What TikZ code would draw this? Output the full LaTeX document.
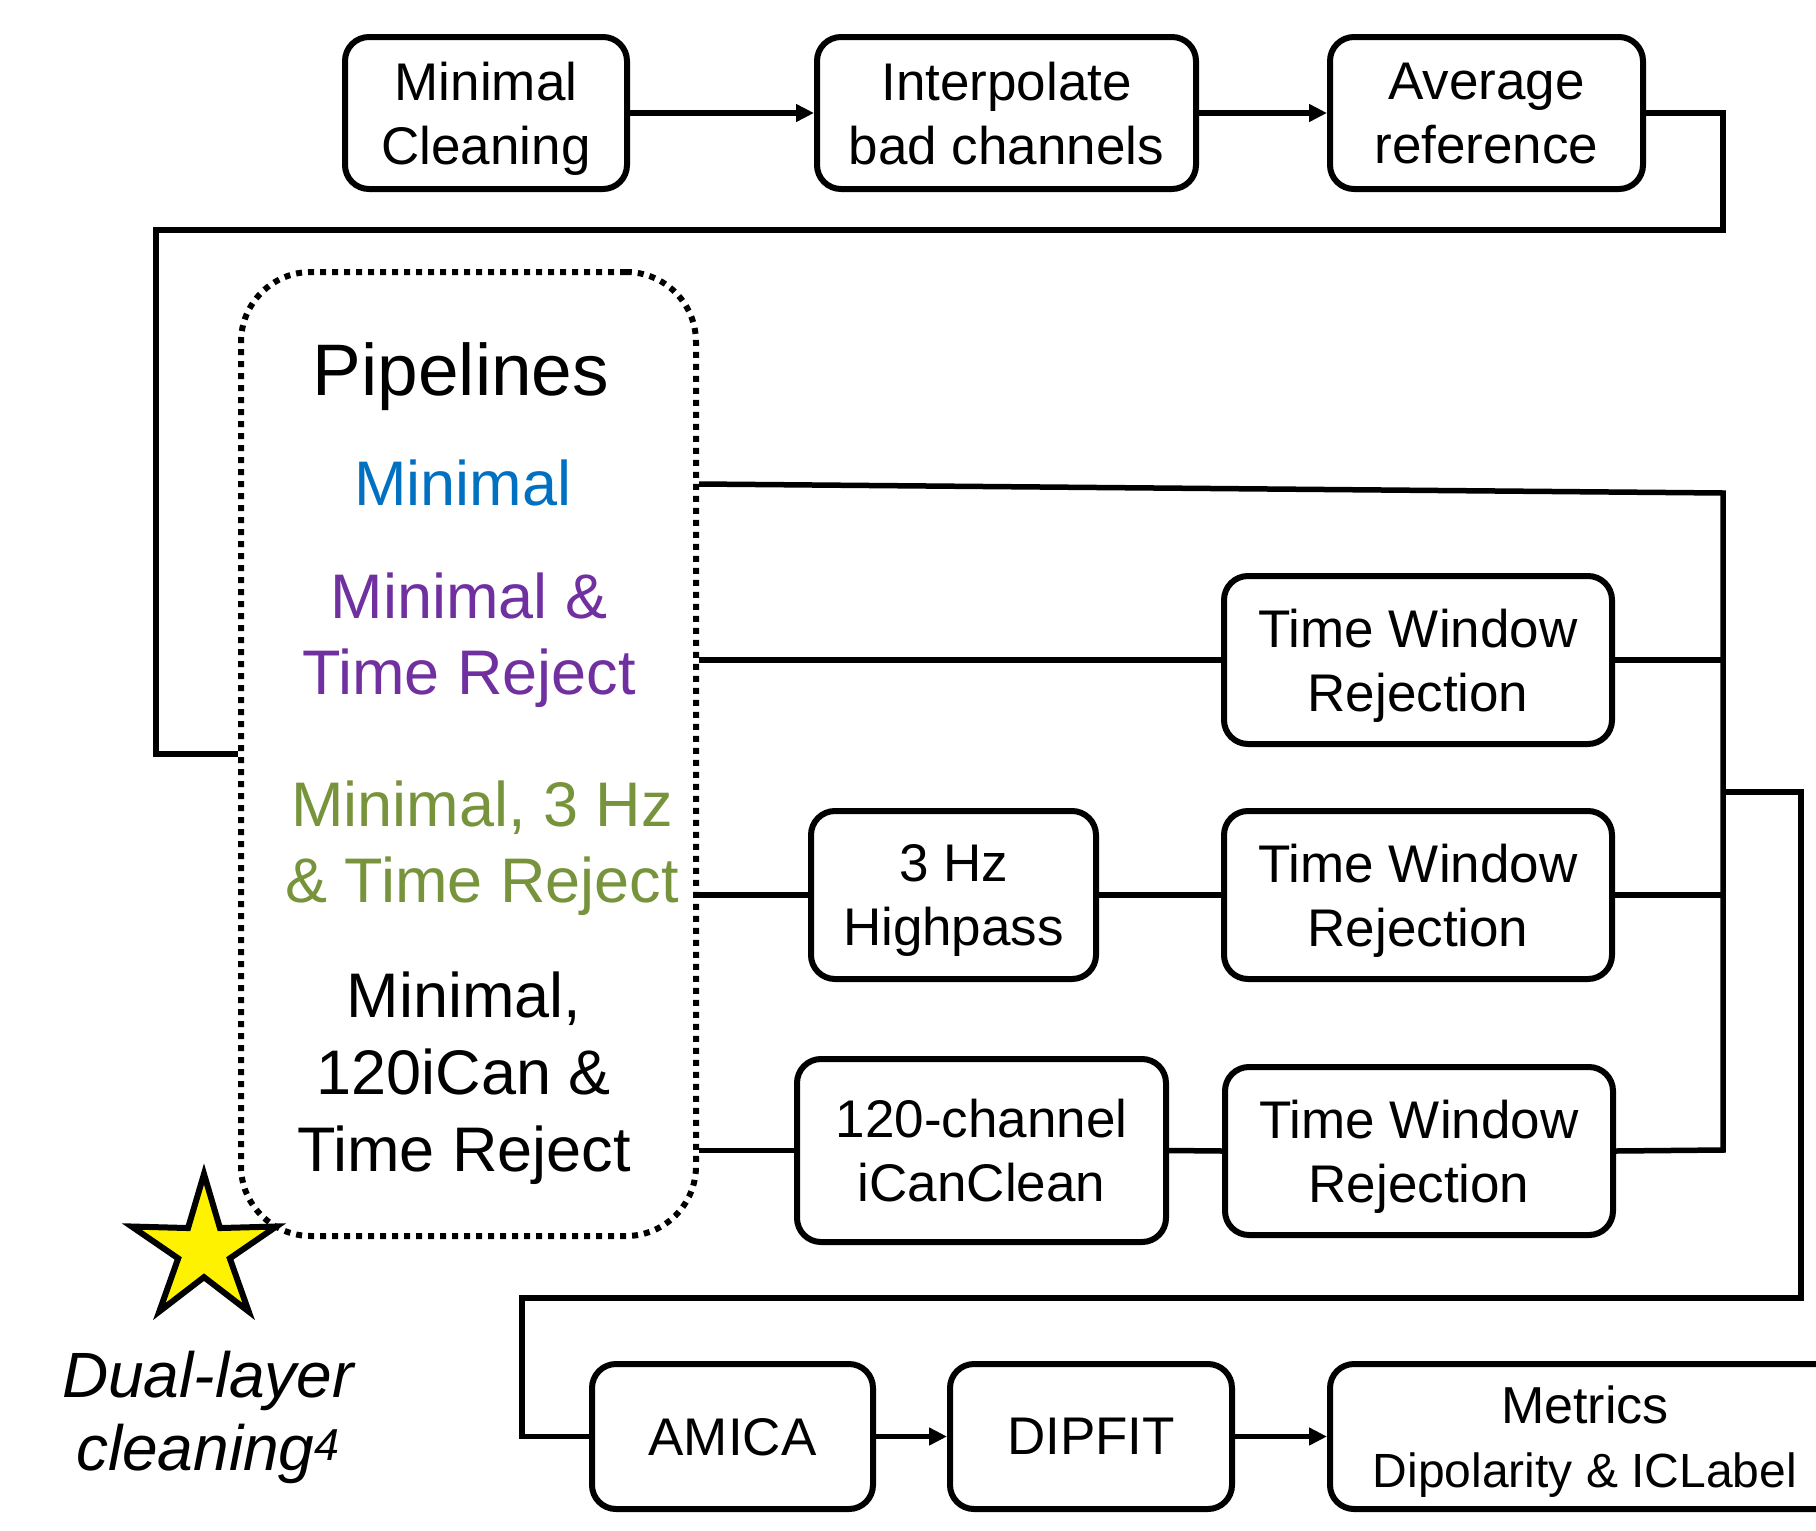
\documentclass[tikz,border=0pt]{standalone}
\usepackage{fontspec}
\setmainfont{Liberation Sans}
\usetikzlibrary{arrows.meta,shapes.geometric}

\definecolor{pipeblue}{HTML}{0070C0}
\definecolor{pipepurple}{HTML}{7030A0}
\definecolor{pipegreen}{HTML}{77933C}

\tikzset{
  stepbox/.style={draw, rectangle, rounded corners=24pt, line width=6pt,
    align=center, inner sep=0pt, text depth=-3pt,
    font=\fontsize{53pt}{64pt}\selectfont},
  link/.style={line width=5.5pt, line join=miter},
  flow/.style={link, -{Triangle[length=18pt,width=17pt]}},
  lbl/.style={anchor=base, inner sep=0pt, font=\fontsize{63pt}{76pt}\selectfont}
}

\begin{document}
\begin{tikzpicture}[x=1pt,y=-1pt]
\clip (0,0) rectangle (1816,1531);
\fill[white] (0,0) rectangle (1816,1531);

% preprocessing row
\node[stepbox, minimum width=282pt, minimum height=152pt] (mc) at (486,113) {Minimal\\Cleaning};
\node[stepbox, minimum width=379pt, minimum height=152pt] (interp) at (1006.5,113) {Interpolate\\bad channels};
\node[stepbox, minimum width=313pt, minimum height=152pt] (avg) at (1486.5,113) {Average\\reference};

% marker for the dual-layer pipeline
\node[star, star points=5, star point ratio=2.8, minimum size=152pt, inner sep=0pt,
      fill=yellow, draw, line width=6pt, line join=miter] (star) at (204,1250) {};
\node[align=center, inner sep=0pt, anchor=base,
      font=\fontsize{64pt}{73pt}\selectfont\itshape] (dual) at (208,1470)
      {Dual-layer\\cleaning\textsuperscript{4}};

% pipelines panel
\node[draw, rectangle, rounded corners=70pt, line width=6pt,
      dash pattern=on 6pt off 6pt, minimum width=455pt, minimum height=964pt] (pipes) at (468.5,754) {};
\node[lbl, font=\fontsize{73pt}{80pt}\selectfont] (ptitle) at (461,395) {Pipelines};
\node[lbl, text=pipeblue] (pmin) at (463,505) {Minimal};
\node[lbl, text=pipepurple] (ppur1) at (469,618) {Minimal \&};
\node[lbl, text=pipepurple] (ppur2) at (469,694) {Time Reject};
\node[lbl, text=pipegreen] (pgrn1) at (482,826) {Minimal, 3 Hz};
\node[lbl, text=pipegreen] (pgrn2) at (482,902) {\& Time Reject};
\node[lbl] (pblk1) at (464,1017) {Minimal,};
\node[lbl] (pblk2) at (464,1094) {120iCan \&};
\node[lbl] (pblk3) at (464,1171) {Time Reject};

% processing steps per pipeline
\node[stepbox, minimum width=388pt, minimum height=168pt] (twr1) at (1418,660) {Time Window\\Rejection};
\node[stepbox, minimum width=285pt, minimum height=168pt] (hp) at (953.5,895) {3 Hz\\Highpass};
\node[stepbox, minimum width=388pt, minimum height=168pt] (twr2) at (1418,895) {Time Window\\Rejection};
\node[stepbox, minimum width=369pt, minimum height=183pt] (ican) at (981.5,1150.5) {120-channel\\iCanClean};
\node[stepbox, minimum width=388pt, minimum height=168pt] (twr3) at (1419,1151) {Time Window\\Rejection};

% ICA row
\node[stepbox, minimum width=281pt, minimum height=145pt] (amica) at (732.5,1436.5) {AMICA};
\node[stepbox, minimum width=282pt, minimum height=145pt] (dipfit) at (1091,1436.5) {DIPFIT};
\node[stepbox, minimum width=510pt, minimum height=145pt] (metrics) at (1585,1436.5)
  {\fontsize{52pt}{61pt}\selectfont Metrics\\\fontsize{48pt}{61pt}\selectfont Dipolarity \& ICLabel};

% routing points
\coordinate (minrow) at (0,484);
\coordinate (bustop) at (1723,493);
\coordinate (busmid) at (1723,792);
\coordinate (busbot) at (1723,1150);
\coordinate (loopR) at (1723,230);
\coordinate (loopL) at (156,230);
\coordinate (loopD) at (156,754);
\coordinate (outR) at (1801,792);
\coordinate (outD) at (1801,1298);
\coordinate (outL) at (522,1298);
\coordinate (outA) at (522,1436.5);

% connectors
\draw[flow] (mc.east) -- (interp.west);
\draw[flow] (interp.east) -- (avg.west);
\draw[link] (avg.east) -| (loopR) -- (loopL) -- (loopD) -- (pipes.west);

\draw[link] (pipes.east |- minrow) -- (bustop) -- (busbot) -- (twr3.east);
\draw[link] (pipes.east |- twr1.west) -- (twr1.west);
\draw[link] (twr1.east) -- (twr1.east -| bustop);
\draw[link] (pipes.east |- hp.west) -- (hp.west);
\draw[link] (hp.east) -- (twr2.west);
\draw[link] (twr2.east) -- (twr2.east -| bustop);
\draw[link] (pipes.east |- ican.west) -- (ican.west);
\draw[link] (ican.east) -- (twr3.west);

\draw[link] (busmid) -- (outR) -- (outD) -- (outL) -- (outA) -- (amica.west);
\draw[flow] (amica.east) -- (dipfit.west);
\draw[flow] (dipfit.east) -- (metrics.west);
\end{tikzpicture}
\end{document}
